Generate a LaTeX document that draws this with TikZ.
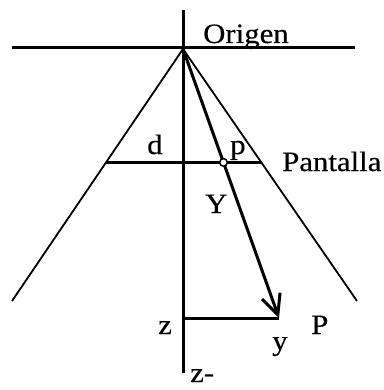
\documentclass[tikz,border=0pt]{standalone}
\usepackage{fontspec}
\setmainfont{Liberation Serif}[FakeStretch=1.1,FakeBold=0.4]
\usetikzlibrary{arrows.meta,calc}

\begin{document}
\begin{tikzpicture}[
    x=1pt, y=-1pt,
    font=\fontsize{28}{32}\selectfont,
    axis/.style={line width=3pt},
    cone/.style={line width=1.8pt},
    pant/.style={line width=2.4pt},
    ray/.style={line width=3pt, -{Straight Barb[length=20pt,width=19pt]}},
    lbl/.style={anchor=base west, inner sep=0pt}
  ]
  \useasboundingbox (0,0) rectangle (383,390);
  % ------------- puntos -------------
  \coordinate (orig) at (183,49);
  \coordinate (ztop) at (183,10);
  \coordinate (zbot) at (183,373);
  \coordinate (hizq) at (12,48);
  \coordinate (hder) at (355,48);
  \coordinate (cizq) at (12,301);
  \coordinate (cder) at (357,301);
  \coordinate (ptP) at (279,318);
  \coordinate (zP) at (orig |- ptP);
  \coordinate (pizq) at ($(orig)!0.45!(cizq)$);
  \coordinate (pder) at ($(orig)!0.45!(cder)$);
  \coordinate (ptp) at ($(orig)!0.4216!(ptP)$);
  % ------------- ejes y cono -------------
  \draw[axis] (ztop) -- (zbot);
  \draw[axis] (hizq) -- (hder);
  \draw[cone] (cizq) -- (orig) -- (cder);
  \draw[pant] (pizq) -- (pder);
  % ------------- punto P y su proyeccion -------------
  \draw[ray] (orig) -- (ptP);
  \draw[axis] (zP) -- (ptP);
  \draw[line width=1.5pt, fill=white] (ptp) circle (3.8);
  % ------------- textos -------------
  \node[lbl] (origen) at (203,43) {Origen};
  \node[lbl] (dlbl) at (147,154) {d};
  \node[lbl] (plbl) at (230,154) {p};
  \node[lbl] (pantalla) at (282,171) {Pantalla};
  \node[lbl] (Ylbl) at (205,213) {Y};
  \node[lbl] (zlbl) at (158,334) {z};
  \node[lbl] (ylbl) at (272,350) {y};
  \node[lbl] (Plbl) at (311,334) {P};
  \node[lbl] (zneg) at (190,382) {z-};
\end{tikzpicture}
\end{document}
